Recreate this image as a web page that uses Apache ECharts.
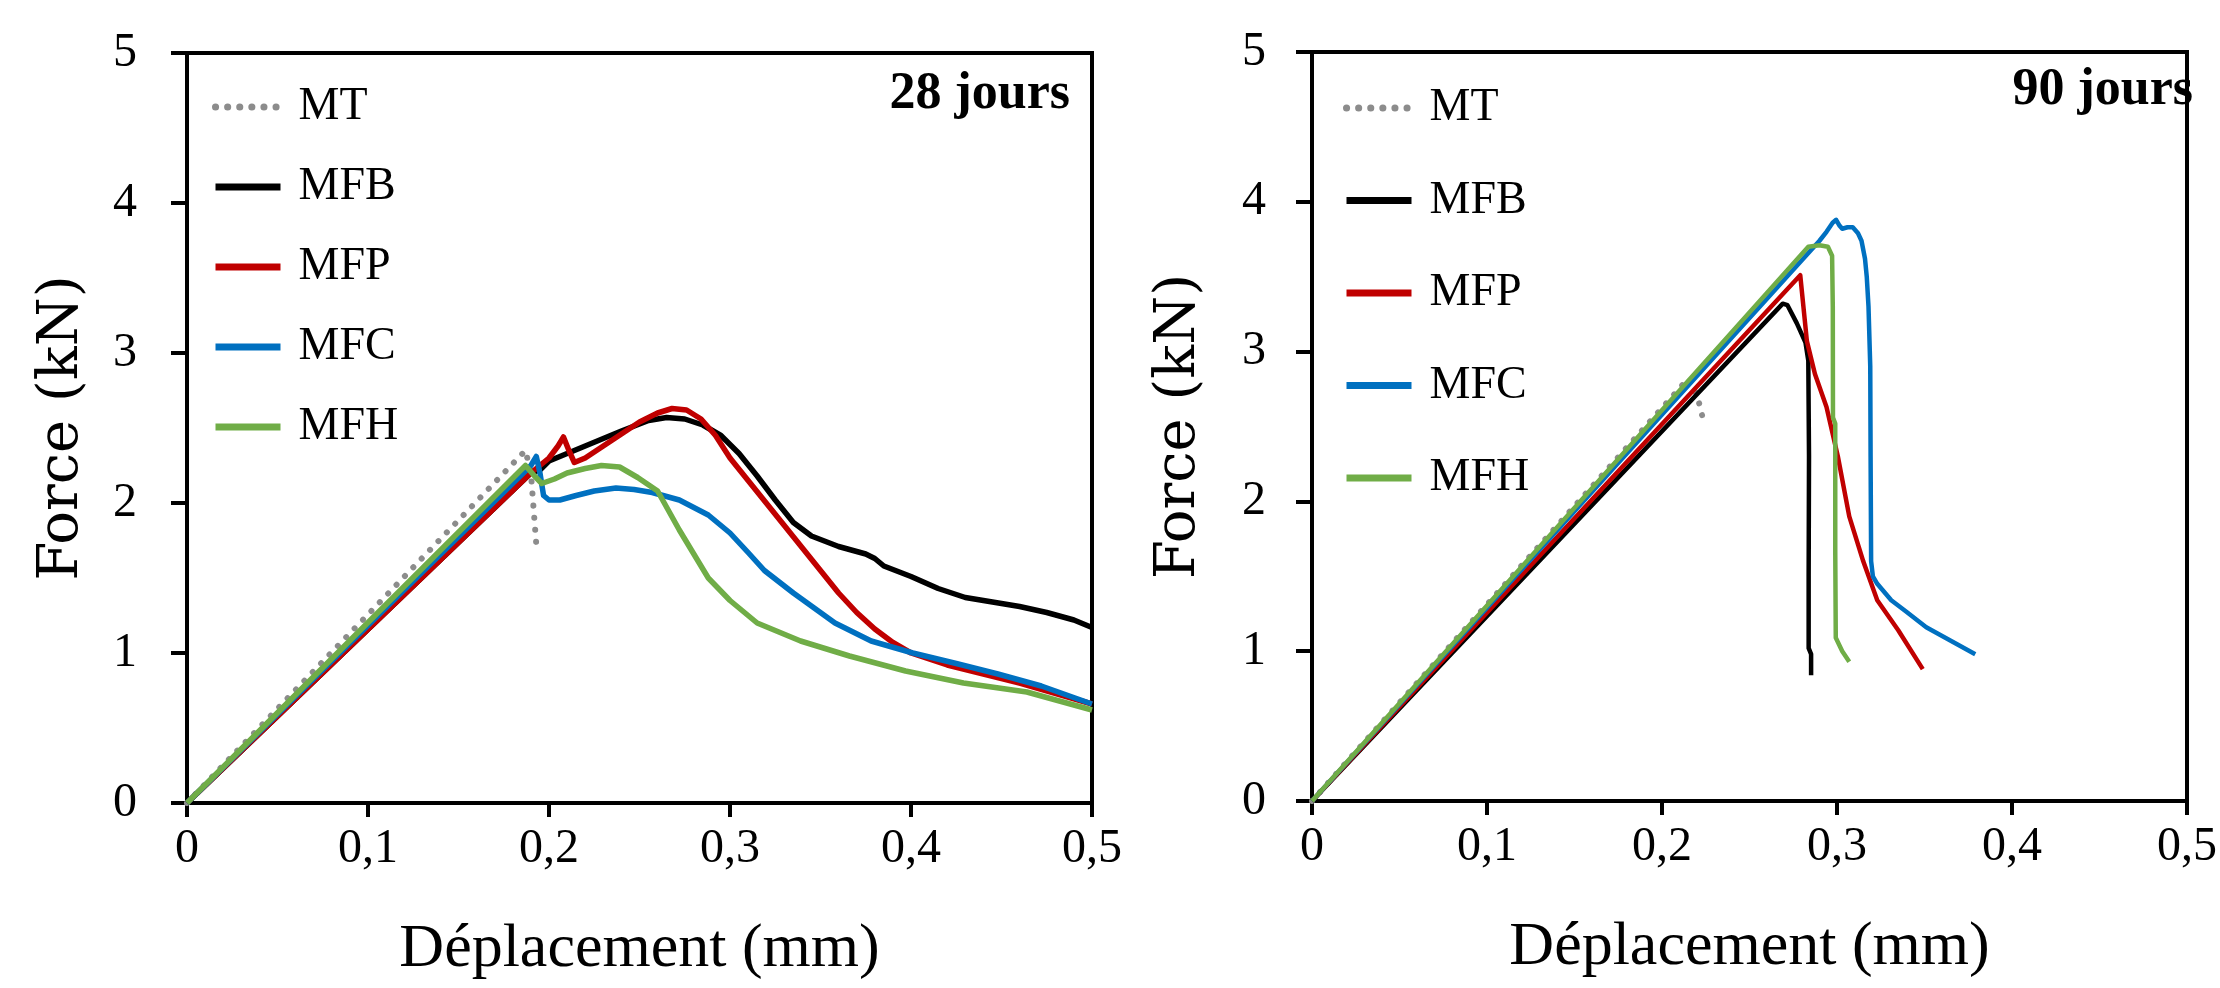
<!DOCTYPE html>
<html>
<head>
<meta charset="utf-8">
<script src="https://cdn.jsdelivr.net/npm/echarts@6/dist/echarts.min.js"></script>
<style>
html,body{margin:0;padding:0;background:#fff;}
#chart{width:2220px;height:988px;}
</style>
</head>
<body>
<div id="chart"></div>
<script>
// ---- Data (displacement mm, force kN) ----
const seriesNames = ['MT', 'MFB', 'MFP', 'MFC', 'MFH'];
const panelTitles = ['28 jours', '90 jours'];
const xTicks = [0, 0.1, 0.2, 0.3, 0.4, 0.5];
const yTicks = [0, 1, 2, 3, 4, 5];

// 28 jours
const mt28 = [[0,0],[0.187,2.35],[0.19,2.2],[0.193,1.72]];
const mfb28 = [[0,0],[0.19,2.2],[0.195,2.22],[0.2,2.28],[0.22,2.38],[0.24,2.48],[0.255,2.55],[0.265,2.57],[0.275,2.56],[0.285,2.52],[0.295,2.45],[0.305,2.33],[0.315,2.18],[0.325,2.02],[0.335,1.87],[0.345,1.78],[0.36,1.71],[0.375,1.66],[0.38,1.63],[0.385,1.58],[0.4,1.51],[0.415,1.43],[0.43,1.37],[0.445,1.34],[0.46,1.31],[0.475,1.27],[0.49,1.22],[0.5,1.17]];
const mfp28 = [[0,0],[0.19,2.2],[0.2,2.3],[0.205,2.38],[0.208,2.44],[0.211,2.35],[0.214,2.27],[0.22,2.3],[0.23,2.38],[0.24,2.46],[0.25,2.54],[0.26,2.6],[0.268,2.63],[0.276,2.62],[0.284,2.56],[0.292,2.45],[0.3,2.3],[0.31,2.15],[0.32,2.0],[0.33,1.85],[0.34,1.7],[0.35,1.55],[0.36,1.4],[0.37,1.27],[0.38,1.16],[0.39,1.07],[0.4,1.0],[0.42,0.92],[0.44,0.86],[0.46,0.8],[0.48,0.73],[0.5,0.66]];
const mfc28 = [[0,0],[0.19,2.25],[0.193,2.31],[0.195,2.2],[0.197,2.05],[0.2,2.02],[0.206,2.02],[0.215,2.05],[0.225,2.08],[0.237,2.1],[0.247,2.09],[0.257,2.07],[0.272,2.02],[0.288,1.92],[0.3,1.8],[0.31,1.67],[0.319,1.55],[0.335,1.4],[0.358,1.2],[0.378,1.08],[0.401,1.0],[0.425,0.93],[0.448,0.86],[0.472,0.78],[0.5,0.66]];
const mfh28 = [[0,0],[0.187,2.25],[0.192,2.18],[0.196,2.13],[0.203,2.16],[0.21,2.2],[0.22,2.23],[0.229,2.25],[0.239,2.24],[0.249,2.17],[0.26,2.08],[0.272,1.82],[0.288,1.5],[0.3,1.35],[0.315,1.2],[0.339,1.08],[0.366,0.98],[0.397,0.88],[0.429,0.8],[0.464,0.74],[0.5,0.62]];

// 90 jours
const mt90 = [[0,0],[0.215,2.82],[0.22,2.71],[0.222,2.62],[0.224,2.52]];
const mfb90 = [[0,0],[0.269,3.32],[0.2717,3.31],[0.277,3.19],[0.282,3.06],[0.2836,2.94],[0.284,2.3],[0.2838,1.5],[0.2838,1.02],[0.2852,0.98],[0.2852,0.84]];
const mfp90 = [[0,0],[0.279,3.51],[0.2828,3.07],[0.2874,2.85],[0.294,2.63],[0.3005,2.3],[0.307,1.9],[0.315,1.6],[0.323,1.34],[0.335,1.14],[0.349,0.88]];
const mfc90 = [[0,0],[0.29,3.74],[0.294,3.8],[0.2975,3.86],[0.2995,3.88],[0.3015,3.84],[0.303,3.82],[0.306,3.83],[0.309,3.83],[0.312,3.79],[0.314,3.74],[0.316,3.62],[0.317,3.5],[0.318,3.3],[0.319,2.9],[0.3192,2.3],[0.3195,1.6],[0.3205,1.5],[0.323,1.45],[0.331,1.34],[0.34,1.26],[0.351,1.16],[0.365,1.07],[0.379,0.98]];
const mfh90 = [[0,0],[0.2836,3.7],[0.29,3.71],[0.2948,3.7],[0.2972,3.64],[0.2976,3.3],[0.2977,2.56],[0.299,2.52],[0.299,1.67],[0.2993,1.09],[0.303,1.0],[0.307,0.93]];

// ---- Styling ----
const FONT = '"Liberation Serif", "DejaVu Serif", serif';
const FONT_WIDE = '"DejaVu Serif", "Liberation Serif", serif';
const colors = {MT:'#8c8c8c', MFB:'#000000', MFP:'#c00000', MFC:'#0070c0', MFH:'#70ad47'};
const panels = [
  {data:[mt28,mfb28,mfp28,mfc28,mfh28]},
  {data:[mt90,mfb90,mfp90,mfc90,mfh90]}
];

const grids = [
  {left:187, top:53, width:905, height:750},
  {left:1312, top:52, width:892, height:749}
];

const fmtX = v => (Math.abs(v) < 1e-9 ? '0' : (+v.toFixed(1)).toString().replace('.', ','));

function makeX(i, nameGap){
  return {
    type:'value', gridIndex:i, min:xTicks[0], max:xTicks[xTicks.length-1], interval:0.1,
    axisLine:{show:true, onZero:false, lineStyle:{color:'#000', width:4}},
    axisTick:{show:true, length:14, lineStyle:{color:'#000', width:4}},
    axisLabel:{show:true, margin:22, color:'#000', fontFamily:FONT, fontSize:48, lineHeight:48, formatter:fmtX, showMaxLabel:true, showMinLabel:true, hideOverlap:false},
    splitLine:{show:false},
    name:'Déplacement (mm)', nameLocation:'middle', nameGap:nameGap,
    nameTextStyle:{color:'#000', fontFamily:FONT, fontSize:62, lineHeight:62}
  };
}
function makeY(i, nameGap, margin){
  return {
    type:'value', gridIndex:i, min:yTicks[0], max:yTicks[yTicks.length-1], interval:1,
    axisLine:{show:true, onZero:false, lineStyle:{color:'#000', width:4}},
    axisTick:{show:true, length:16, lineStyle:{color:'#000', width:4}},
    axisLabel:{show:true, margin:margin, color:'#000', fontFamily:FONT, fontSize:48, lineHeight:48},
    splitLine:{show:false},
    name:'Force (kN)', nameLocation:'middle', nameGap:nameGap, nameRotate:90,
    nameTextStyle:{color:'#000', fontFamily:FONT_WIDE, fontSize:56, lineHeight:56}
  };
}

const series = [];
panels.forEach((p, pi) => {
  p.data.forEach((d, si) => {
    const name = seriesNames[si];
    const isMT = name === 'MT';
    series.push({
      type:'line', name:name, xAxisIndex:pi, yAxisIndex:pi, data:d,
      symbol:'none', showSymbol:false, smooth:false,
      lineStyle:{color:colors[name], width: isMT ? 6 : (pi === 1 ? 4.5 : 5.5), type: isMT ? [0.1, 12] : 'solid', cap: isMT ? 'round' : 'butt', join:'round'},
      itemStyle:{color:colors[name]},
      emphasis:{disabled:true},
      z: 2 + si
    });
  });
});

const legendBase = {
  orient:'vertical', data:seriesNames, itemWidth:65, itemHeight:20,
  selectedMode:false,
  itemStyle:{opacity:0, borderWidth:0},
  lineStyle:{width:7},
  textStyle:{color:'#000', fontFamily:FONT, fontSize:46, lineHeight:46, padding:[0,0,0,13]},
  padding:0
};

const option = {
  animation:false,
  backgroundColor:'#fff',
  title: panelTitles.map((t, i) => ({
    text:t, right: i === 0 ? 1150 : 27, top: i === 0 ? 69 : 65, padding:0,
    textStyle:{color:'#000', fontFamily:FONT, fontWeight:'bold', fontSize:52, lineHeight:52}
  })),
  legend: [
    Object.assign({}, legendBase, {left:212, top:84, itemGap:34}),
    Object.assign({}, legendBase, {left:1343, top:85, itemGap:46.5})
  ],
  grid: grids.map(g => Object.assign({show:true, borderColor:'#000', borderWidth:4, backgroundColor:'transparent', containLabel:false}, g)),
  xAxis: [makeX(0, 116), makeX(1, 116)],
  yAxis: [makeY(0, 97, 50), makeY(1, 105, 46)],
  series: series
};

const chart = echarts.init(document.getElementById('chart'), null, {renderer:'canvas'});
chart.setOption(option);
</script>
</body>
</html>
